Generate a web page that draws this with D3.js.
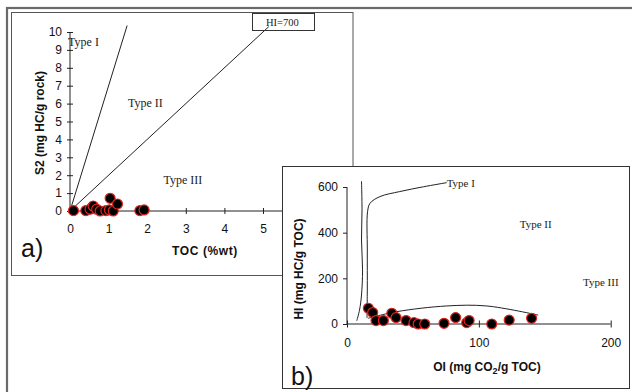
<!DOCTYPE html>
<html>
<head>
<meta charset="utf-8">
<script src="https://cdn.jsdelivr.net/npm/d3@7"></script>
<style>
  body { margin: 0; background: #fff; }
  svg { display: block; }
  .tick text { font-family: "Liberation Sans", Arial, sans-serif; font-size: 12px; fill: #111; }
  .axis path, .axis line { stroke: #222; }
  .title { font-family: "Liberation Sans", Arial, sans-serif; font-size: 12px; font-weight: bold; fill: #111; }
  .type { font-family: "Liberation Serif", "Times New Roman", serif; fill: #222; }
  .panel-label { font-family: "Liberation Sans", Arial, sans-serif; font-size: 25px; fill: #111; }
</style>
</head>
<body>
<div id="chart"></div>
<script>
// panel a: S2 vs TOC
const tocVals = [0.09, 0.41, 0.52, 0.6, 0.69, 0.78, 0.93, 1.02, 1.04, 1.12, 1.23, 1.81, 1.92]
const s2Vals  = [0.02, 0.02, 0.1, 0.28, 0.1, 0.0, 0.02, 0.06, 0.71, 0.0, 0.39, 0.02, 0.06]
const hiRefLines = [700, 200]        // S2 = TOC * HI / 100
const hiRefEndToc = [1.48, 5.15]
const tocTicks = [0, 1, 2, 3, 4, 5, 6]
const s2Ticks = [0, 1, 2, 3, 4, 5, 6, 7, 8, 9, 10]

// panel b: HI vs OI
const oiVals = [16.2, 19.5, 22, 27.6, 34, 37.2, 44.8, 50.8, 54, 59, 73.6, 82.4, 90.8, 92.6, 109.8, 123, 140]
const hiVals = [69, 50, 15, 15, 47, 28, 15, 6, 0, 0, 3, 28, 6, 15, 0, 17, 25]
const curveLeft  = [[7.4, 14], [9.5, 61], [11, 127], [11.8, 237], [11, 368], [11.4, 499], [11, 626]]
const curveTypeI = [[15.2, 26], [15.4, 149], [15.4, 324], [15.6, 492], [17.5, 529], [25, 558], [40, 580], [58, 601], [75.6, 619]]
const curveTypeIII = [[16, 25], [37.7, 54], [75.6, 79], [106, 79], [145, 39]]
const oiTicks = [0, 100, 200]
const hiTicks = [0, 200, 400, 600]

const svg = d3.select('#chart').append('svg')
  .attr('width', 632)
  .attr('height', 392)

// outer frame
svg.append('rect')
  .attr('x', 7).attr('y', 8)
  .attr('width', 660).attr('height', 420)
  .attr('fill', 'none')
  .attr('stroke', '#6a6a6a')
  .attr('stroke-width', 2.2)

// ---------- panel a ----------
const a = svg.append('g')

a.append('rect')
  .attr('x', 11.5).attr('y', 12.5)
  .attr('width', 341.5).attr('height', 263)
  .attr('fill', '#fff')
  .attr('stroke', '#555')

const xA = d3.scaleLinear().domain([0, 6]).range([70, 70 + 38.6 * 6])
const yA = d3.scaleLinear().domain([0, 10]).range([211, 32])

const lineA = d3.line().x(d => xA(d[0])).y(d => yA(d[1]))

hiRefLines.map((hi, i) => {
  a.append('path')
    .attr('d', lineA([[0, 0], [hiRefEndToc[i], hiRefEndToc[i] * hi / 100]]))
    .attr('fill', 'none')
    .attr('stroke', '#222')
})

// HI=700 label box
a.append('rect')
  .attr('x', 252.5).attr('y', 13.5)
  .attr('width', 62).attr('height', 17)
  .attr('fill', 'none')
  .attr('stroke', '#333')
a.append('text')
  .attr('class', 'type')
  .attr('x', 266).attr('y', 22)
  .attr('dy', '0.35em')
  .style('font-size', '10.5px')
  .text('HI=700')

const typesA = [['Type I', -0.05, 9.44], ['Type II', 1.5, 6.03], ['Type III', 2.42, 1.73]]
typesA.map(t => {
  a.append('text')
    .attr('class', 'type')
    .attr('x', xA(t[1])).attr('y', yA(t[2]))
    .attr('dy', '0.35em')
    .style('font-size', '12px')
    .text(t[0])
})

a.append('g')
  .attr('class', 'axis')
  .attr('transform', `translate(0,${yA(0)})`)
  .call(d3.axisBottom(xA).tickValues(tocTicks).tickFormat(d3.format('d')).tickSize(3).tickPadding(10))
  .call(g => g.select('.domain').attr('d', `M${xA(0)},0H${xA(6)}`))
  .call(g => g.selectAll('.tick line').attr('y1', -3).attr('y2', 3))

a.append('g')
  .attr('class', 'axis')
  .attr('transform', `translate(${xA(0)},0)`)
  .call(d3.axisLeft(yA).tickValues(s2Ticks).tickSize(3).tickPadding(5))
  .call(g => g.select('.domain').attr('d', `M0,${yA(0)}V${yA(10)}`))
  .call(g => g.selectAll('.tick line').attr('x1', -3).attr('x2', 3))

a.selectAll('circle')
  .data(tocVals)
  .enter()
  .append('circle')
  .attr('cx', d => xA(d))
  .attr('cy', (d, i) => yA(s2Vals[i]))
  .attr('r', 5)
  .attr('fill', '#000')
  .attr('stroke', '#e3241e')
  .attr('stroke-width', 1.2)

a.append('text')
  .attr('class', 'title')
  .attr('x', 205).attr('y', 251)
  .attr('dy', '0.35em')
  .attr('text-anchor', 'middle')
  .style('letter-spacing', '0.6px')
  .text('TOC (%wt)')

a.append('text')
  .attr('class', 'title')
  .attr('transform', 'translate(40,123) rotate(-90)')
  .attr('dy', '0.35em')
  .attr('text-anchor', 'middle')
  .text('S2 (mg HC/g rock)')

a.append('text')
  .attr('class', 'panel-label')
  .attr('x', 21).attr('y', 257)
  .text('a)')

// ---------- panel b ----------
const b = svg.append('g')

b.append('rect')
  .attr('x', 282.5).attr('y', 166.5)
  .attr('width', 347).attr('height', 222)
  .attr('fill', '#fff')
  .attr('stroke', '#333')

const xB = d3.scaleLinear().domain([0, 200]).range([347, 610.7])
const yB = d3.scaleLinear().domain([0, 600]).range([324, 187])

const curve = d3.line().x(d => xB(d[0])).y(d => yB(d[1])).curve(d3.curveCatmullRom)

;[curveLeft, curveTypeI, curveTypeIII].map(c => {
  b.append('path')
    .attr('d', curve(c))
    .attr('fill', 'none')
    .attr('stroke', '#222')
})

const typesB = [['Type I', 75.6, 617], ['Type II', 131, 438], ['Type III', 179, 185]]
typesB.map(t => {
  b.append('text')
    .attr('class', 'type')
    .attr('x', xB(t[1])).attr('y', yB(t[2]))
    .attr('dy', '0.35em')
    .style('font-size', '11px')
    .text(t[0])
})

b.append('g')
  .attr('class', 'axis')
  .attr('transform', `translate(0,${yB(0)})`)
  .call(d3.axisBottom(xB).tickValues(oiTicks).tickSize(3.5).tickPadding(11))
  .call(g => g.select('.domain').attr('d', `M${xB(0)},0H${xB(200)}`))
  .call(g => g.selectAll('.tick line').attr('y1', -3.5).attr('y2', 3.5))

b.append('g')
  .attr('class', 'axis')
  .attr('transform', `translate(${xB(0)},0)`)
  .call(d3.axisLeft(yB).tickValues(hiTicks).tickSize(4).tickPadding(5))
  .call(g => g.select('.domain').attr('d', `M0,${yB(0)}V${yB(600)}`))

b.selectAll('circle')
  .data(oiVals)
  .enter()
  .append('circle')
  .attr('cx', d => xB(d))
  .attr('cy', (d, i) => yB(hiVals[i]))
  .attr('r', 5)
  .attr('fill', '#000')
  .attr('stroke', '#e3241e')
  .attr('stroke-width', 1.2)

const oiTitle = b.append('text')
  .attr('class', 'title')
  .attr('x', 487).attr('y', 367)
  .attr('dy', '0.35em')
  .attr('text-anchor', 'middle')
oiTitle.append('tspan').text('OI (mg CO')
oiTitle.append('tspan').attr('dy', 3).style('font-size', '9px').text('2')
oiTitle.append('tspan').attr('dy', -3).text('/g TOC)')

b.append('text')
  .attr('class', 'title')
  .attr('transform', 'translate(299,269) rotate(-90)')
  .attr('dy', '0.35em')
  .attr('text-anchor', 'middle')
  .text('HI (mg HC/g TOC)')

b.append('text')
  .attr('class', 'panel-label')
  .attr('x', 291).attr('y', 385)
  .text('b)')
</script>
</body>
</html>
